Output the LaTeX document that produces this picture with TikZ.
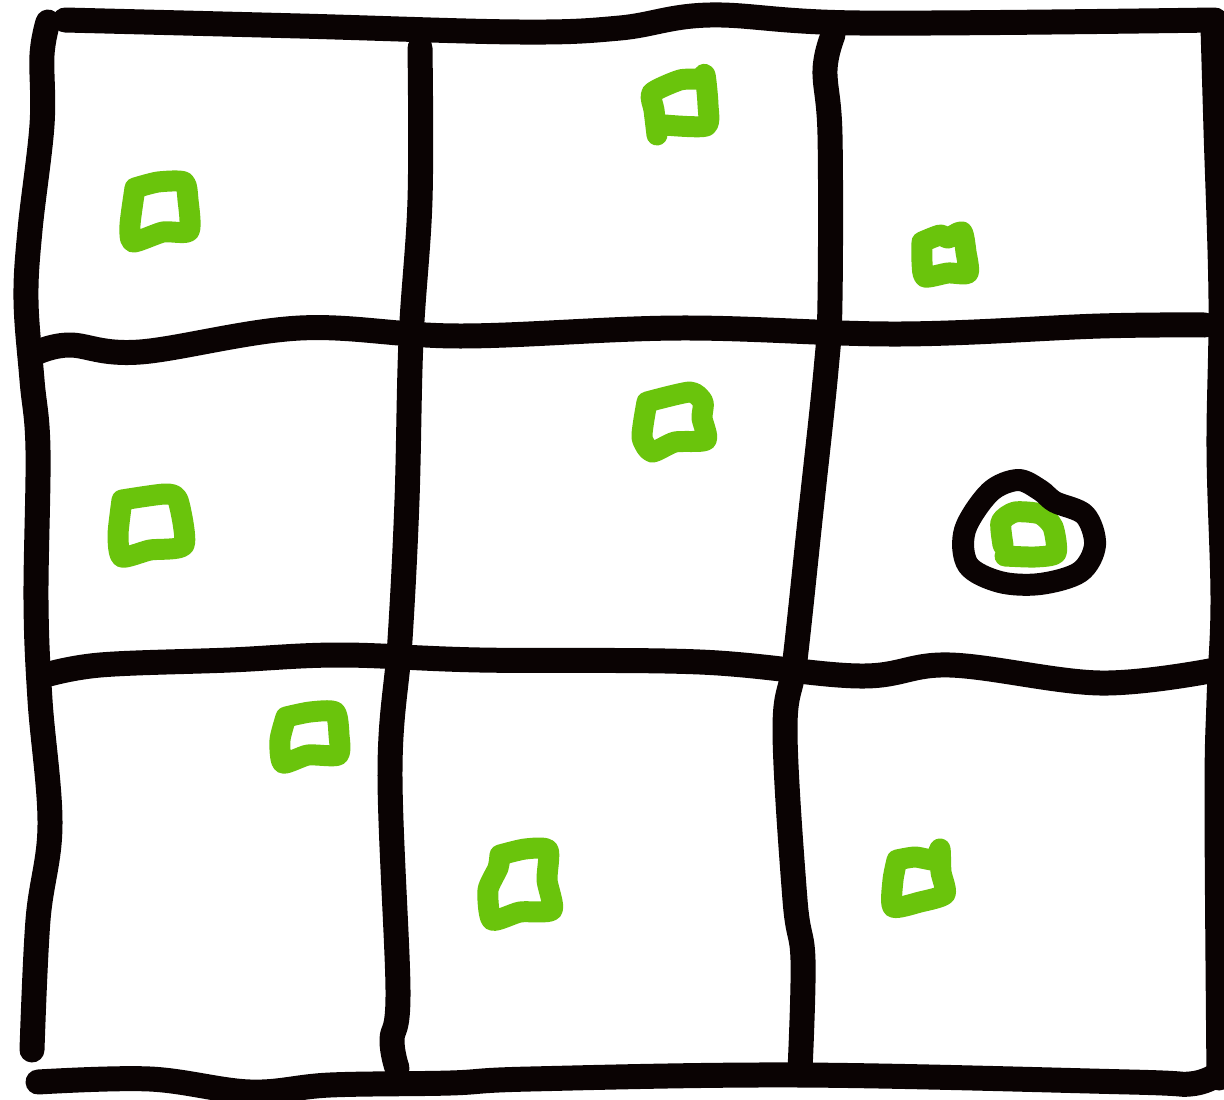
\documentclass[tikz,border=0pt]{standalone}
\usepackage{tikz}
\definecolor{ink}{HTML}{0A0303}
\definecolor{leaf}{HTML}{6AC40C}

\begin{document}
\begin{tikzpicture}[x=0.02cm, y=-0.02cm,
  gridline/.style={ink, line width=0.5cm, line cap=round, line join=round},
  mark box/.style={leaf, line width=0.42cm, line cap=round, line join=round},
  ring/.style={ink, line width=0.44cm, line cap=round, line join=round}]
\useasboundingbox (0,0) rectangle (1224,1099);
% outer frame
\draw[gridline] plot[smooth, tension=0.6] coordinates {(65,20) (300,26) (520,32) (620,28) (710,15) (860,23) (1215,20)};
\draw[gridline] plot[smooth, tension=0.6] coordinates {(48,22) (42,55) (42,125) (30,230) (26,300) (32,380) (38,450) (36,600) (40,700) (50,825) (38,920) (32,1050)};
\draw[gridline] plot[smooth, tension=0.6] coordinates {(1213,28) (1216,130) (1221,300) (1219,450) (1223,600) (1219,700) (1217,800) (1219,1078)};
\draw[gridline] plot[smooth, tension=0.6] coordinates {(38,1082) (150,1079) (250,1092) (330,1085) (450,1083) (530,1079) (800,1075) (1130,1082) (1190,1084) (1215,1076)};
% inner lines
\draw[gridline] plot[smooth, tension=0.6] coordinates {(38,352) (70,345) (140,352) (300,328) (460,336) (680,328) (900,334) (1100,326) (1205,325)};
\draw[gridline] plot[smooth, tension=0.6] coordinates {(42,676) (100,665) (230,660) (340,655) (480,660) (700,662) (860,676) (950,665) (1100,683) (1215,670)};
\draw[gridline] plot[smooth, tension=0.6] coordinates {(420,48) (420,200) (411,340) (407,500) (400,640) (390,770) (398,990) (392,1040) (397,1068)};
\draw[gridline] plot[smooth, tension=0.6] coordinates {(833,35) (825,70) (830,135) (830,300) (826,370) (810,520) (795,660) (785,730) (795,900) (803,960) (800,1070)};
% green marks
\draw[mark box] plot[smooth, tension=0.4] coordinates {(135,188) (158,182) (184,182) (188,200) (189,231) (163,232) (133,242) (130,225) (135,188)};
\draw[mark box] plot[smooth, tension=0.4] coordinates {(657,135) (654,110) (652,93) (680,80) (700,79) (705,75) (708,105) (706,126) (665,125)};
\draw[mark box] plot[smooth, tension=0.4] coordinates {(922,242) (940,235) (948,238) (962,232) (966,252) (968,273) (948,273) (925,277) (922,262) (922,242)};
\draw[mark box] plot[smooth, tension=0.4] coordinates {(647,402) (690,392) (703,402) (702,418) (706,440) (675,442) (652,452) (642,437) (647,402)};
\draw[mark box] plot[smooth, tension=0.4] coordinates {(122,500) (165,494) (178,500) (184,545) (150,550) (122,557) (118,535) (122,500)};
\draw[mark box] plot[smooth, tension=0.4] coordinates {(286,717) (310,712) (335,712) (339,735) (338,755) (308,755) (283,763) (280,740) (286,717)};
\draw[mark box] plot[smooth, tension=0.4] coordinates {(500,855) (525,849) (548,850) (547,880) (552,910) (520,912) (492,920) (488,890) (498,868) (500,855)};
\draw[mark box] plot[smooth, tension=0.4] coordinates {(897,860) (915,857) (935,860) (940,849) (941,872) (945,894) (920,902) (893,907) (893,880) (897,860)};
\draw[mark box] plot[smooth, tension=0.4] coordinates {(1003,545) (1001,522) (1015,512) (1040,514) (1053,527) (1056,553) (1035,557) (1005,556)};
% circled mark
\draw[ring] plot[smooth cycle, tension=0.55] coordinates {(1040,490) (1018,480) (990,492) (965,530) (968,565) (1000,582) (1040,584) (1080,572) (1095,545) (1085,515) (1055,502)};
\end{tikzpicture}
\end{document}
